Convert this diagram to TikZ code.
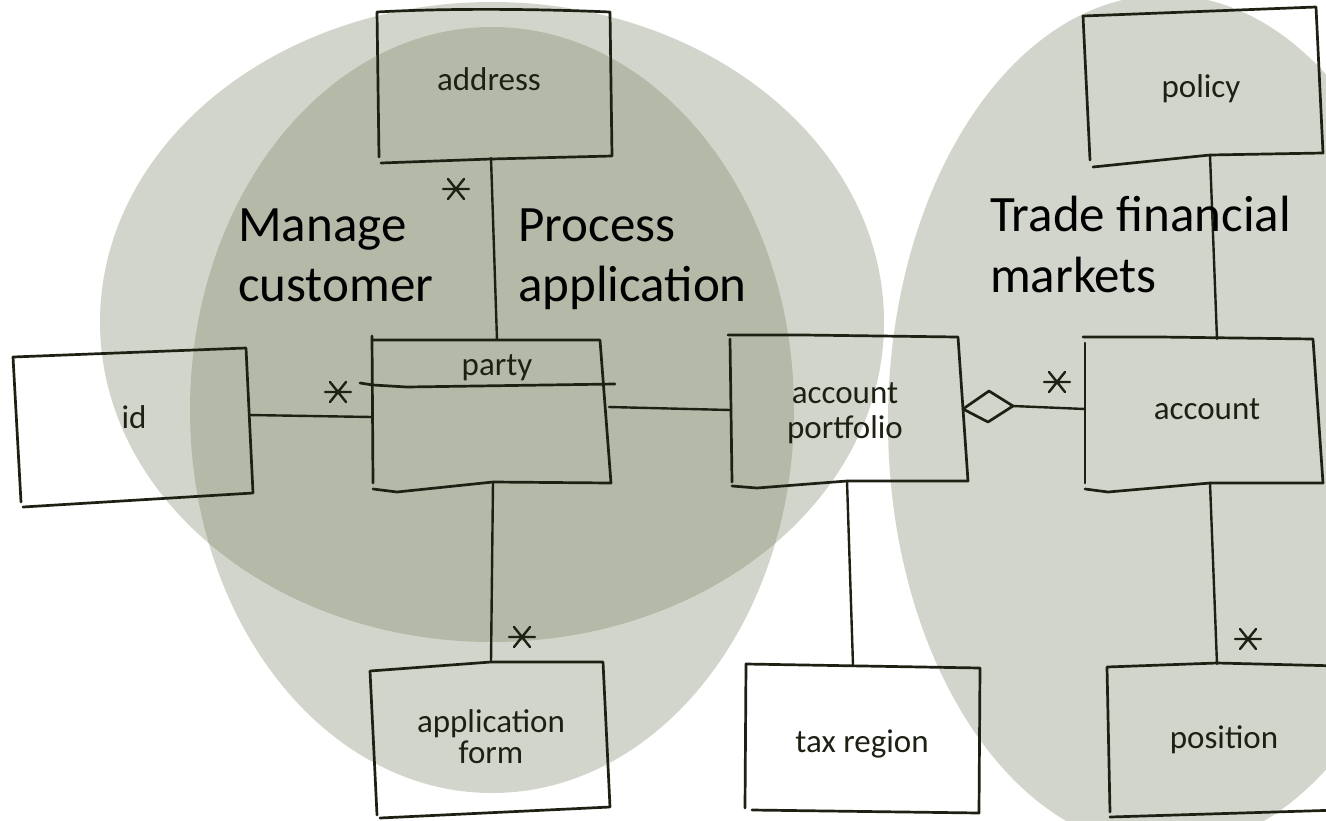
\documentclass[tikz,border=0pt]{standalone}
\usepackage{fontspec}
\setmainfont{Carlito}
\definecolor{ell}{RGB}{117,127,96}
\definecolor{ink}{RGB}{28,33,20}
\begin{document}
\begin{tikzpicture}[x=1pt,y=-1pt,
 region/.style={fill=ell, fill opacity=0.32},
 sketch/.style={draw=ink, line width=2.7pt, line cap=round, line join=round},
 link/.style={draw=ink, line width=2.4pt, line cap=round},
 hand/.style={font=\fontsize{33}{35}\selectfont, text=ink, inner sep=0pt, anchor=base},
 title/.style={font=\fontsize{51}{60}\selectfont, text=black, inner sep=0pt, anchor=base west},
 astar/.pic={\draw[ink, line width=2.4pt, line cap=round] (-13,0)--(13,0) (-8,-10)--(8,10) (-8,10)--(8,-10);}
]
\useasboundingbox (0,0) rectangle (1326,820);
\clip (0,0) rectangle (1326,820);
\fill[white] (0,0) rectangle (1326,820);

% regions
\fill[region] (492,322) ellipse [x radius=392pt, y radius=320pt];
\fill[region] (492,410) ellipse [x radius=302pt, y radius=383pt];
\fill[region] (1165,422) ellipse [x radius=277pt, y radius=427pt];

% boxes
% address
\draw[sketch] (379,157) -- (377,12) .. controls (450,8) and (540,9) .. (610,12) -- (612,156) -- (491,159) -- (381,163);
% party
\draw[sketch] (372,336) -- (373,483);
\draw[sketch] (372,340) -- (600,340) -- (611,483) -- (493,482) -- (397,492) -- (373,489);
\draw[sketch] (360,383) -- (373,385) -- (407,387) -- (615,384);
% id
\draw[sketch] (21,502) -- (13,357) -- (246,348) -- (253,493) -- (23,507);
% account portfolio
\draw[sketch] (728,335) -- (803,335) -- (958,337) -- (968,481) -- (847,481) -- (757,488) -- (732,486);
\draw[sketch] (730,339) -- (732,482);
% account
\draw[sketch] (1083,337) -- (1160,337) -- (1313,339) -- (1323,483) -- (1210,483) -- (1108,492) -- (1085,489);
\draw[sketch] (1085,343) -- (1085,483);
% policy
\draw[sketch] (1090,160) -- (1083,16) -- (1316,7) -- (1323,153) -- (1210,155) -- (1093,167);
% position
\draw[sketch] (1110,812) -- (1107,667) -- (1217,663) -- (1340,666);
\draw[sketch] (1110,817) -- (1340,810);
% tax region
\draw[sketch] (745,808) -- (746,664) -- (980,668) -- (979,813) -- (752,810);
% application form
\draw[sketch] (377,815) -- (370,671) -- (491,662) -- (603,662) -- (610,807) -- (380,818);
% aggregation diamond
\draw[sketch] (963,409) -- (989,391) -- (1013,406) -- (988,422) -- cycle;

% connection points
\coordinate (addr-s) at (491,158);
\coordinate (party-n) at (497,340);
\coordinate (party-s) at (493,482);
\coordinate (form-n) at (491,662);
\coordinate (id-e) at (249,415);
\coordinate (party-w) at (372,417);
\coordinate (party-e) at (609,407);
\coordinate (ap-w) at (730,410);
\coordinate (ap-s) at (847,481);
\coordinate (tax-n) at (853,665);
\coordinate (dia-e) at (1013,406);
\coordinate (acc-w) at (1085,409);
\coordinate (pol-s) at (1210,155);
\coordinate (acc-n) at (1217,339);
\coordinate (acc-s) at (1210,483);
\coordinate (pos-n) at (1217,664);

% connectors
\draw[link] (addr-s) -- (party-n);
\draw[link] (party-s) -- (form-n);
\draw[link] (id-e) -- (party-w);
\draw[link] (party-e) -- (ap-w);
\draw[link] (ap-s) -- (tax-n);
\draw[link] (dia-e) -- (acc-w);
\draw[link] (pol-s) -- (acc-n);
\draw[link] (acc-s) -- (pos-n);

% multiplicities
\pic at (456,189) {astar};
\pic at (338,392) {astar};
\pic at (522,637) {astar};
\pic at (1057,382) {astar};
\pic at (1248,639) {astar};

% box labels
\node[hand] (t-address) at (489,90) {address};
\node[hand] (t-party) at (497,375) {party};
\node[hand] (t-id) at (134,428) {id};
\node[hand] (t-ap1) at (845,403) {account};
\node[hand] (t-ap2) at (845,438) {portfolio};
\node[hand] (t-account) at (1207,419) {account};
\node[hand] (t-policy) at (1201,97) {policy};
\node[hand] (t-position) at (1224,748) {position};
\node[hand] (t-tax) at (862,752) {tax region};
\node[hand] (t-af1) at (491,732) {application};
\node[hand] (t-af2) at (491,763) {form};

% region titles
\node[title] (mc1) at (238,241.7) {Manage};
\node[title] (mc2) at (238,301.7) {customer};
\node[title] (pa1) at (518,241.7) {Process};
\node[title] (pa2) at (518,301.7) {application};
\node[title] (tf1) at (990,231) {Trade financial};
\node[title] (tf2) at (990,292) {markets};
\end{tikzpicture}
\end{document}
